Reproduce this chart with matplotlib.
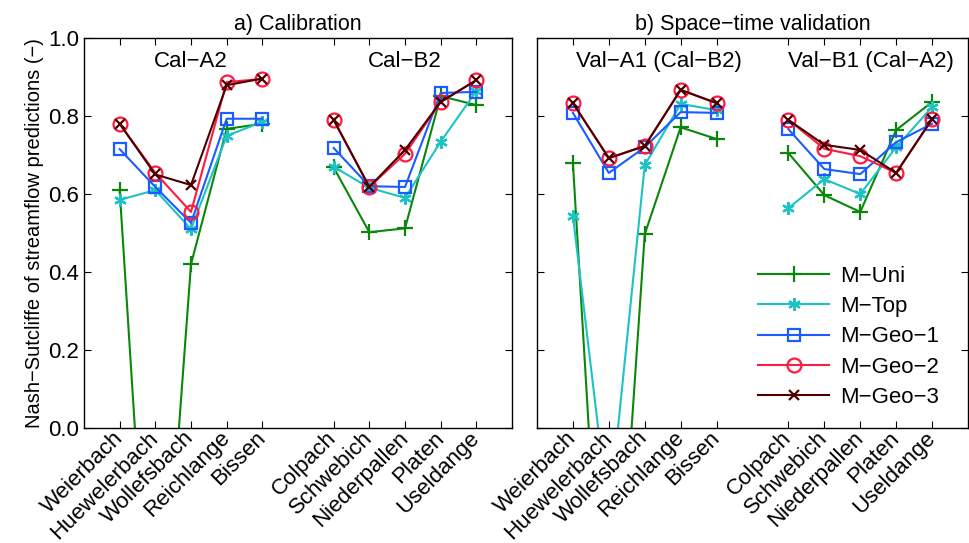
import numpy as np
import matplotlib
matplotlib.use('Agg')
import matplotlib.pyplot as plt

plt.rcParams['font.family'] = ['Liberation Sans', 'DejaVu Sans']
plt.rcParams['axes.unicode_minus'] = True

# catchments and positions (gap between the two groups)
stations = ['Weierbach', 'Huewelerbach', 'Wollefsbach', 'Reichlange', 'Bissen',
            'Colpach', 'Schwebich', 'Niederpallen', 'Platen', 'Useldange']
xpos = [1, 2, 3, 4, 5, 7, 8, 9, 10, 11]

models = ['M\u2212Uni', 'M\u2212Top', 'M\u2212Geo\u22121', 'M\u2212Geo\u22122', 'M\u2212Geo\u22123']

# a) Calibration: Cal-A2 (first five) and Cal-B2 (last five)
cal_uni = [0.61, -0.82, 0.42, 0.767, 0.78, 0.668, 0.502, 0.512, 0.851, 0.828]
cal_top = [0.585, 0.61, 0.51, 0.749, 0.785, 0.67, 0.616, 0.59, 0.734, 0.864]
cal_geo1 = [0.715, 0.618, 0.526, 0.793, 0.793, 0.718, 0.62, 0.618, 0.859, 0.862]
cal_geo2 = [0.78, 0.654, 0.554, 0.887, 0.895, 0.79, 0.618, 0.703, 0.836, 0.892]
cal_geo3 = [0.78, 0.65, 0.623, 0.879, 0.896, 0.79, 0.618, 0.713, 0.836, 0.892]

# b) Space-time validation: Val-A1 (Cal-B2) and Val-B1 (Cal-A2)
val_uni = [0.679, -0.86, 0.497, 0.771, 0.741, 0.705, 0.597, 0.554, 0.764, 0.836]
val_top = [0.544, -0.23, 0.674, 0.831, 0.815, 0.564, 0.638, 0.6, 0.72, 0.823]
val_geo1 = [0.808, 0.654, 0.72, 0.81, 0.808, 0.766, 0.664, 0.651, 0.733, 0.78]
val_geo2 = [0.833, 0.692, 0.723, 0.867, 0.833, 0.79, 0.716, 0.697, 0.654, 0.792]
val_geo3 = [0.833, 0.692, 0.723, 0.867, 0.833, 0.79, 0.726, 0.713, 0.654, 0.792]

colors = ['#0a870a', '#1dc3c3', '#1a5cff', '#ff1a40', '#4a0000']
markers = ['+', (6, 2, 0), 's', 'o', 'x']
msizes = [11, 9, 8, 10, 7]

fig = plt.figure(figsize=(9.69, 5.43), dpi=100)
ax1 = fig.add_axes([84/969, 115/543, 428/969, 390/543])
ax2 = fig.add_axes([537/969, 115/543, 431/969, 390/543])


def draw_panel(ax, series, title):
    for vals, name, c, m, ms in zip(series, models, colors, markers, msizes):
        vals = np.array(vals)
        for idx in (slice(0, 5), slice(5, 10)):
            ax.plot(np.array(xpos)[idx], vals[idx], color=c, marker=m, ms=ms,
                    mfc='none', mec=c, mew=1.6, lw=1.5,
                    label=name if idx.start == 0 else None)
    ax.set_xlim(0, 12)
    ax.set_ylim(0, 1)
    ax.set_xticks(xpos)
    ax.set_xticklabels(stations, rotation=45, ha='right', va='center',
                       rotation_mode='anchor', fontsize=15.5)
    ax.set_yticks([0, 0.2, 0.4, 0.6, 0.8, 1.0])
    ax.tick_params(direction='in', top=True, right=True, length=5, width=0.8,
                   labelsize=16)
    ax.tick_params(axis='x', pad=5)
    for s in ax.spines.values():
        s.set_linewidth(1.0)
    ax.set_title(title, fontsize=15.5, pad=6)


draw_panel(ax1, [cal_uni, cal_top, cal_geo1, cal_geo2, cal_geo3], 'a) Calibration')
draw_panel(ax2, [val_uni, val_top, val_geo1, val_geo2, val_geo3],
           'b) Space\u2212time validation')

ax1.set_yticklabels(['0.0', '0.2', '0.4', '0.6', '0.8', '1.0'])
ax2.set_yticklabels([])
ax1.set_ylabel('Nash\u2212Sutcliffe of streamflow predictions (\u2212)', fontsize=14.5,
               labelpad=3)

ax1.text(3, 0.94, 'Cal\u2212A2', ha='center', va='center', fontsize=16)
ax1.text(9, 0.94, 'Cal\u2212B2', ha='center', va='center', fontsize=16)
ax2.text(3.4, 0.94, 'Val\u2212A1 (Cal\u2212B2)', ha='center', va='center', fontsize=16)
ax2.text(9.3, 0.94, 'Val\u2212B1 (Cal\u2212A2)', ha='center', va='center', fontsize=16)

ax2.legend(loc='lower right', bbox_to_anchor=(0.98, 0.0), frameon=False,
           fontsize=16, handlelength=3.2, labelspacing=0.42, handletextpad=0.5)

fig.savefig('out.png', dpi=100)
